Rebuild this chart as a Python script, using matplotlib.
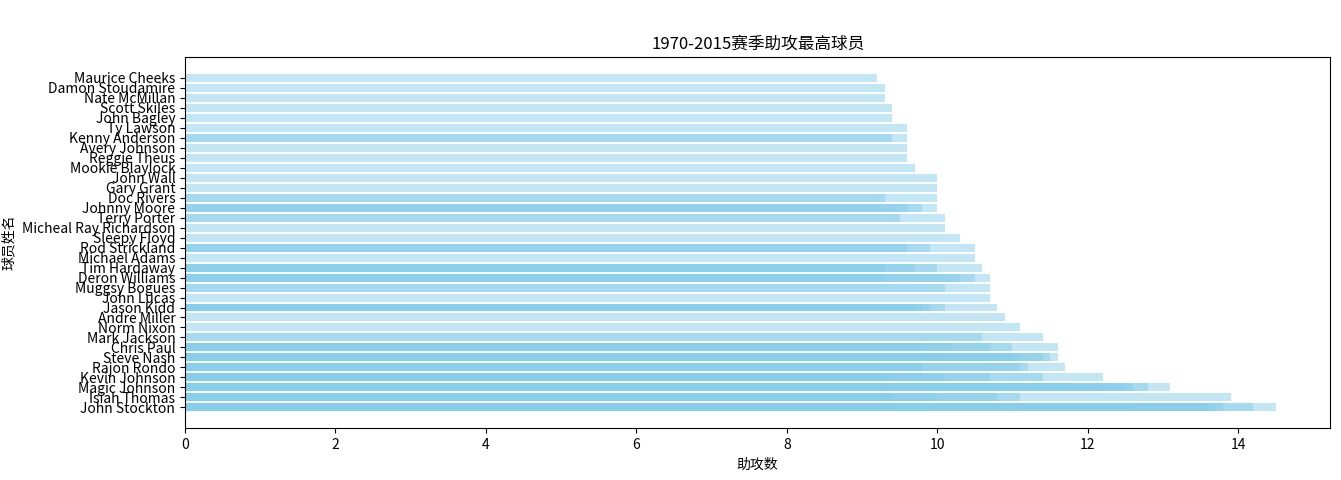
import matplotlib
matplotlib.use("Agg")
import matplotlib.pyplot as plt

plt.rcParams['font.family'] = ['Noto Sans CJK SC', 'DejaVu Sans']
plt.rcParams['axes.unicode_minus'] = False

# players, bottom to top (order of first appearance when sorted by assists)
players = [
    "John Stockton", "Isiah Thomas", "Magic Johnson", "Kevin Johnson", "Rajon Rondo",
    "Steve Nash", "Chris Paul", "Mark Jackson", "Norm Nixon", "Andre Miller",
    "Jason Kidd", "John Lucas", "Muggsy Bogues", "Deron Williams", "Tim Hardaway",
    "Michael Adams", "Rod Strickland", "Sleepy Floyd", "Micheal Ray Richardson", "Terry Porter",
    "Johnny Moore", "Doc Rivers", "Gary Grant", "John Wall", "Mookie Blaylock",
    "Reggie Theus", "Avery Johnson", "Kenny Anderson", "Ty Lawson", "John Bagley",
    "Scott Skiles", "Nate McMillan", "Damon Stoudamire", "Maurice Cheeks",
]

# season assist averages per player (one entry per season)
season_assists = [
    [14.5, 14.2, 13.8, 13.7, 13.6, 12.6, 12.3, 12.0, 11.2, 10.5],
    [13.9, 11.1, 10.8, 10.0, 9.4, 9.3],
    [13.1, 12.8, 12.6, 12.5, 12.2, 11.9, 11.5, 10.5, 9.5],
    [12.2, 11.4, 10.7, 10.1, 9.5, 9.3],
    [11.7, 11.2, 11.1, 9.8, 9.8],
    [11.6, 11.5, 11.4, 11.1, 11.0, 10.7, 10.5, 9.7],
    [11.6, 11.0, 10.7, 10.2, 9.8],
    [11.4, 10.6],
    [11.1],
    [10.9],
    [10.8, 10.1, 9.9, 9.8, 9.7, 9.2],
    [10.7],
    [10.7, 10.1],
    [10.7, 10.5, 10.3, 9.3],
    [10.6, 10.0, 9.7, 9.3],
    [10.5],
    [10.5, 9.9, 9.6],
    [10.3],
    [10.1],
    [10.1, 9.5],
    [10.0, 9.8, 9.6],
    [10.0, 9.3],
    [10.0],
    [10.0],
    [9.7],
    [9.6],
    [9.6],
    [9.6, 9.4],
    [9.6],
    [9.4],
    [9.4],
    [9.3],
    [9.3],
    [9.2],
]

title = "1970-2015赛季助攻最高球员"
xlabel = "助攻数"
ylabel = "球员姓名"

records = []
for i, (p, vals) in enumerate(zip(players, season_assists)):
    for v in vals:
        records.append((v, i, p))
records.sort(key=lambda r: (-r[0], r[1]))
names = [r[2] for r in records]
values = [r[0] for r in records]

fig = plt.figure(figsize=(13.41, 4.8), dpi=100)
ax = fig.add_axes([0.138, 0.108, 0.854, 0.773])
ax.barh(names, values, color='skyblue', alpha=0.5)
ax.set_title(title, fontsize=12)
ax.set_xlabel(xlabel, fontsize=10)
ax.set_ylabel(ylabel, fontsize=10)
ax.tick_params(axis='both', labelsize=10)

fig.savefig("out.png", dpi=100)
